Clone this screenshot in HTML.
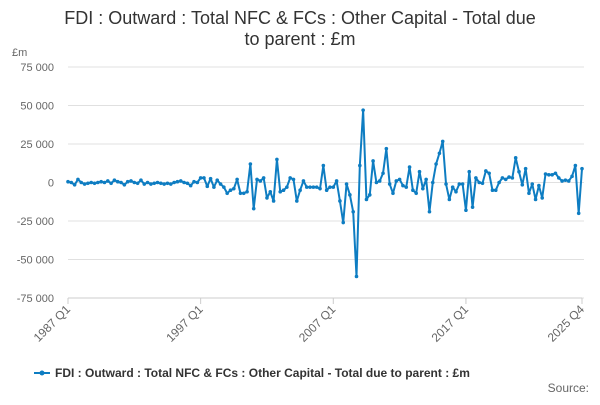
<!DOCTYPE html>
<html><head><meta charset="utf-8"><style>
body{margin:0;background:#fff;font-family:"Liberation Sans",sans-serif;}
svg text{font-family:"Liberation Sans",sans-serif;}
</style></head><body>
<svg width="600" height="400" viewBox="0 0 600 400">
<text x="300" y="24" text-anchor="middle" font-size="18" fill="#333">FDI : Outward : Total NFC &amp; FCs : Other Capital - Total due</text>
<text x="300" y="45" text-anchor="middle" font-size="18" fill="#333">to parent : £m</text>
<text x="12" y="56" font-size="11" fill="#666">£m</text>
<g id="grid"></g><g id="xaxis"></g><g id="series"></g>
<g>
<line x1="34" y1="373" x2="50" y2="373" stroke="#0e7dc2" stroke-width="2"/><circle cx="42" cy="373" r="2.5" fill="#0e7dc2"/>
<text x="55" y="377" font-size="12" font-weight="bold" fill="#333">FDI : Outward : Total NFC &amp; FCs : Other Capital - Total due to parent : £m</text>
</g>
<text x="589" y="392" text-anchor="end" font-size="12" fill="#666">Source:</text>
</svg>
<script>
const yTicks=[75000,50000,25000,0,-25000,-50000,-75000];
const xLabelIdx=[0,40,80,120,155];
const xLabels=["1987 Q1","1997 Q1","2007 Q1","2017 Q1","2025 Q4"];
const values=[500,0,-1500,2000,0,-1000,-500,0,-500,0,500,0,1000,-500,1500,500,0,-1500,500,1000,0,-500,1500,-1000,0,-1000,-500,0,-500,-1000,-500,-1000,0,500,1000,0,-500,-2000,500,0,
3000,3000,-2500,2500,-3000,1500,-1000,-3000,-7000,-5000,-4000,2000,-7000,-7000,-6000,12000,-17000,2000,1000,3000,-10000,-6000,-12000,15000,-6000,-5000,-3000,3000,2000,-12000,-5000,1000,-3000,-3000,-3000,-3000,-4000,11000,-5000,-3000,-3000,1000,-12000,-26000,-1000,-8000,-19000,-61000,11000,47000,-11000,-8000,14000,0,1000,6000,22000,-1000,-7000,1000,2000,-2000,-3000,10000,-5000,-7000,7000,-4000,2000,-19000,0,12000,19000,26700,-1000,-11000,-3000,-6000,-1000,-1000,-18000,7000,-16000,3000,0,-500,7500,6000,-5000,-5000,0,3000,2000,3500,3000,16000,7000,-1500,9000,-7000,-1000,-11000,-2000,-10000,5500,5000,5000,6000,3000,1000,1500,1000,4000,11000,-20000,9000];
const X0=68,X1=582,Y0=67,Y1=298,vmax=75000,vmin=-75000;
const xs=i=>X0+(X1-X0)*i/(values.length-1);
const ys=v=>Y0+(vmax-v)/(vmax-vmin)*(Y1-Y0);
const NS="http://www.w3.org/2000/svg";
function mk(t,a,p){const e=document.createElementNS(NS,t);for(const k in a)e.setAttribute(k,a[k]);p.appendChild(e);return e;}
const g=document.getElementById('grid');
yTicks.forEach(v=>{
 const l=mk('line',{x1:X0,x2:X1+2,y1:ys(v),y2:ys(v),stroke:'#e0e0e0','stroke-width':1},g);
 
 
 const t=mk('text',{x:54,y:ys(v)+4,'text-anchor':'end','font-size':11,fill:'#666'},g);
 
 
 t.textContent=v===0?'0':(v<0?'-':'')+Math.abs(v).toLocaleString('en').replace(',',' ');
});
const xa=document.getElementById('xaxis');
const ax=mk('line',{x1:X0,x2:X1,y1:Y1,y2:Y1,stroke:'#ccc'},xa);


xLabelIdx.forEach((i,k)=>{
 const x=xs(i);
 const tk=mk('line',{x1:x,x2:x,y1:Y1,y2:Y1+6,stroke:'#ccc'},xa);
 
 
 const t=mk('text',{x:x+3,y:Y1+12,'text-anchor':'end','font-size':12,fill:'#666',transform:`rotate(-45 ${x+3} ${Y1+12})`},xa);
 
 
 t.textContent=xLabels[k];
});
const s=document.getElementById('series');
const p=mk('polyline',{points:values.map((v,i)=>xs(i)+','+ys(v)).join(' '),fill:'none',stroke:'#0e7dc2','stroke-width':2,'stroke-linejoin':'round'},s);


values.forEach((v,i)=>{
 const c=mk('circle',{cx:xs(i),cy:ys(v),r:1.8,fill:'#0e7dc2'},s);
 
 
});
</script>
</body></html>
